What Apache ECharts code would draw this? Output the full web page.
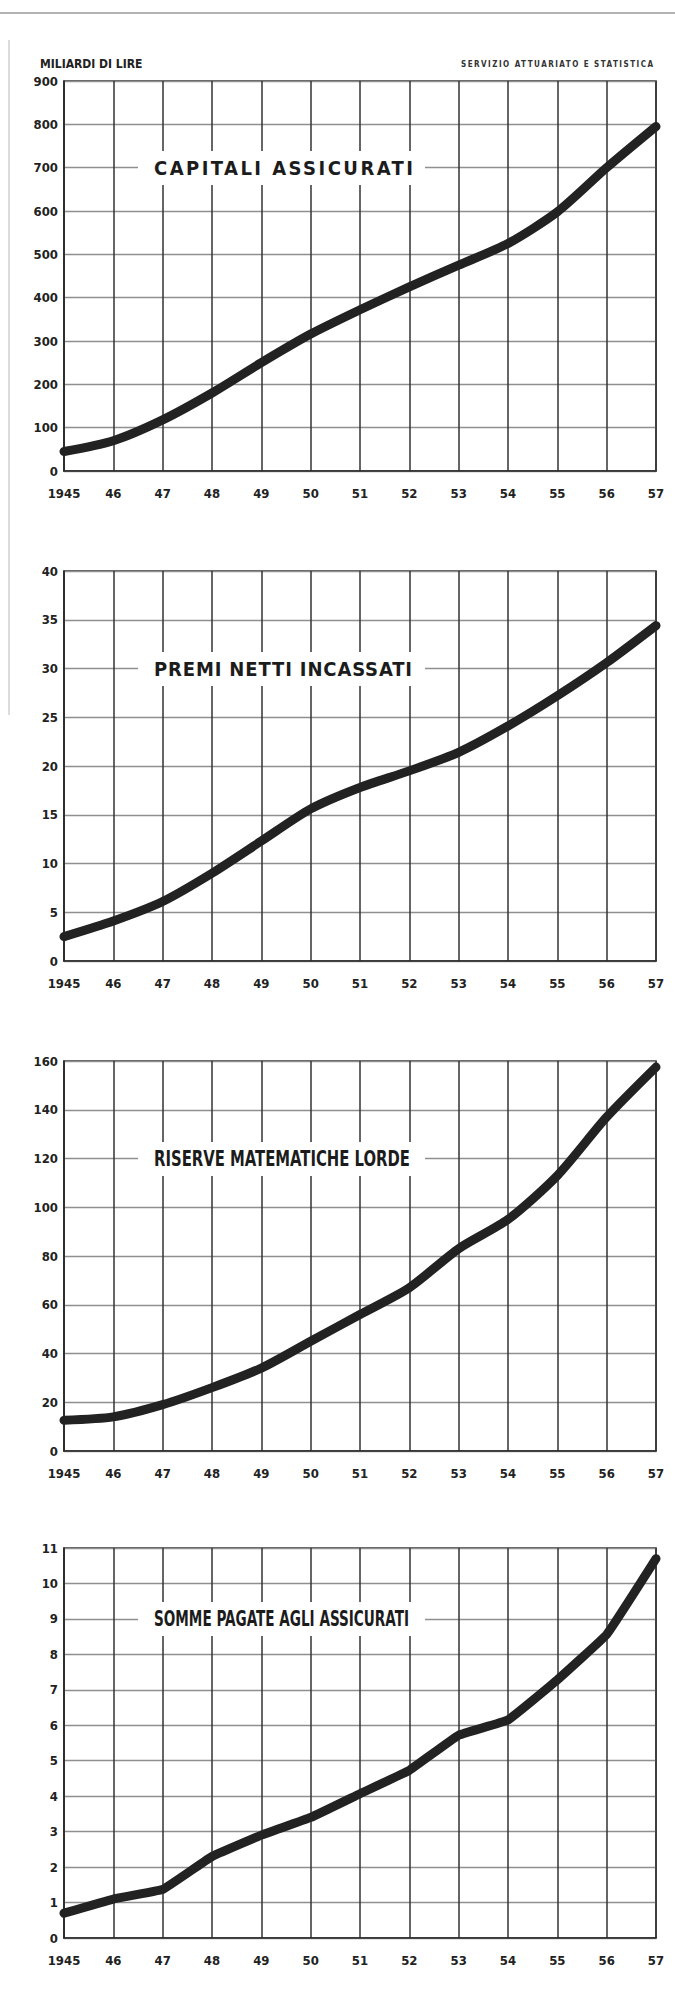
<!DOCTYPE html>
<html>
<head>
<meta charset="utf-8">
<script src="https://cdn.jsdelivr.net/npm/echarts@6/dist/echarts.min.js"></script>
<style>
  html, body { margin: 0; padding: 0; background: #ffffff; }
  #wrap { position: relative; width: 675px; height: 1995px; }
  #chart { position: absolute; left: 0; top: 0; width: 675px; height: 1995px; }
  .ttl { position: absolute; background: #ffffff; white-space: nowrap; color: #1c1c1c;
         font-family: "DejaVu Sans Condensed", "DejaVu Sans", sans-serif; font-stretch: condensed; font-weight: bold;
         box-sizing: border-box; overflow: visible; }
  .ttl span { position: absolute; left: 16px; top: 50%; transform-origin: 0 50%; line-height: 1; }
  .src { position: absolute; white-space: nowrap; color: #333; line-height: 1;
         font-family: "DejaVu Sans Condensed", "DejaVu Sans", sans-serif; font-stretch: condensed; font-weight: bold; }
</style>
</head>
<body>
<div id="wrap"><div id="chart"></div></div>
<script>
// ---- data (miliardi di lire) ----
const years = ['1945', '46', '47', '48', '49', '50', '51', '52', '53', '54', '55', '56', '57'];
const capitaliAssicurati = [45, 70, 118, 180, 250, 316, 372, 425, 475, 525, 598, 700, 795];
const premiNettiIncassati = [2.5, 4.1, 6.1, 9.0, 12.3, 15.6, 17.8, 19.5, 21.4, 24.1, 27.2, 30.6, 34.4];
const riserveMatematicheLorde = [12.6, 14, 19, 26, 34, 45, 56, 67, 83, 95, 113, 137, 157.5];
const sommePagateAgliAssicurati = [0.7, 1.1, 1.37, 2.3, 2.9, 3.4, 4.07, 4.73, 5.72, 6.15, 7.28, 8.56, 10.7];

const panelTitles = ['CAPITALI ASSICURATI', 'PREMI NETTI INCASSATI', 'RISERVE MATEMATICHE LORDE', 'SOMME PAGATE AGLI ASSICURATI'];
const panelSeries = [capitaliAssicurati, premiNettiIncassati, riserveMatematicheLorde, sommePagateAgliAssicurati];
const yMaxima = [900, 40, 160, 11];
const yIntervals = [100, 5, 20, 1];
const titleLevels = [700, 30, 120, 9];
const unitLabel = 'MILIARDI DI LIRE';
const sourceLabel = 'SERVIZIO ATTUARIATO E STATISTICA';

// ---- layout ----
const FONT = '"DejaVu Sans Condensed", "DejaVu Sans", sans-serif';
const gridTops = [81, 571, 1061, 1548];
const gridHeight = 390;
const smoothing = [0.25, 0.25, 0.25, 0.08];

const chart = echarts.init(document.getElementById('chart'), null, { renderer: 'svg' });

const grids = [], xAxes = [], yAxes = [], series = [];
for (let i = 0; i < 4; i++) {
  grids.push({ left: 64, right: 19, top: gridTops[i], height: gridHeight, show: true,
               borderColor: '#2b2b2b', borderWidth: 1.5, backgroundColor: 'transparent' });
  xAxes.push({
    type: 'category', gridIndex: i, data: years, boundaryGap: false,
    axisLine: { show: true, lineStyle: { color: '#2b2b2b', width: 1.5 } },
    axisTick: { show: false },
    axisLabel: { color: '#222', fontFamily: FONT, fontWeight: 'bold', fontSize: 13, margin: 16, interval: 0 },
    splitLine: { show: true, lineStyle: { color: '#333', width: 1.5 } }
  });
  yAxes.push({
    type: 'value', gridIndex: i, min: 0, max: yMaxima[i], interval: yIntervals[i],
    axisLine: { show: true, lineStyle: { color: '#2b2b2b', width: 1.5 } },
    axisTick: { show: false },
    axisLabel: { color: '#222', fontFamily: FONT, fontWeight: 'bold', fontSize: 13, margin: 6 },
    splitLine: { show: true, lineStyle: { color: '#8f8f8f', width: 1.3 } }
  });
  series.push({
    type: 'line', xAxisIndex: i, yAxisIndex: i, data: panelSeries[i],
    symbol: 'none', smooth: smoothing[i], z: 5,
    lineStyle: { color: '#222', width: 9, cap: 'round', join: 'round' }
  });
}

chart.setOption({
  animation: false,
  backgroundColor: '#ffffff',
  grid: grids, xAxis: xAxes, yAxis: yAxes, series: series,
  graphic: [
    { type: 'line', shape: { x1: 0, y1: 13, x2: 675, y2: 13 }, style: { stroke: '#9a9a9a', lineWidth: 1.5 }, silent: true },
    { type: 'line', shape: { x1: 9, y1: 40, x2: 9, y2: 715 }, style: { stroke: '#d0d0d0', lineWidth: 1.5 }, silent: true },
    { type: 'text', left: 40, top: 58, style: { text: unitLabel, font: 'bold 12px ' + FONT, fill: '#222' } }
  ]
});

const wrap = document.getElementById('wrap');

// ---- source label (small, letter-spaced) ----
const src = document.createElement('div');
src.className = 'src';
src.textContent = sourceLabel;
src.style.fontSize = '8px';
src.style.top = '61px';
wrap.appendChild(src);
{
  const w = src.getBoundingClientRect().width;
  const ls = Math.max(0, (192 - w) / (sourceLabel.length - 1));
  src.style.letterSpacing = ls + 'px';
  src.style.left = '461px';
}

// ---- panel titles on white boxes, placed on their grid level ----
const titleWidths = [259, 258, 256, 255];
const titleSizes = [20, 20, 21, 21];
for (let i = 0; i < 4; i++) {
  const yPix = chart.convertToPixel({ gridIndex: i }, [0, titleLevels[i]])[1];
  const div = document.createElement('div');
  div.className = 'ttl';
  div.style.left = '138px';
  div.style.width = '287px';
  div.style.height = '34px';
  div.style.top = (yPix - 17) + 'px';
  const span = document.createElement('span');
  span.textContent = panelTitles[i];
  span.style.fontSize = titleSizes[i] + 'px';
  div.appendChild(span);
  wrap.appendChild(div);
  const w = span.getBoundingClientRect().width;
  const n = panelTitles[i].length;
  let ls = (titleWidths[i] - w) / (n - 1);
  let sx = 1;
  if (ls < 0) { ls = 0; sx = titleWidths[i] / w; }
  span.style.letterSpacing = ls + 'px';
  span.style.transform = 'translateY(-50%) scaleX(' + sx + ')';
}
</script>
</body>
</html>
